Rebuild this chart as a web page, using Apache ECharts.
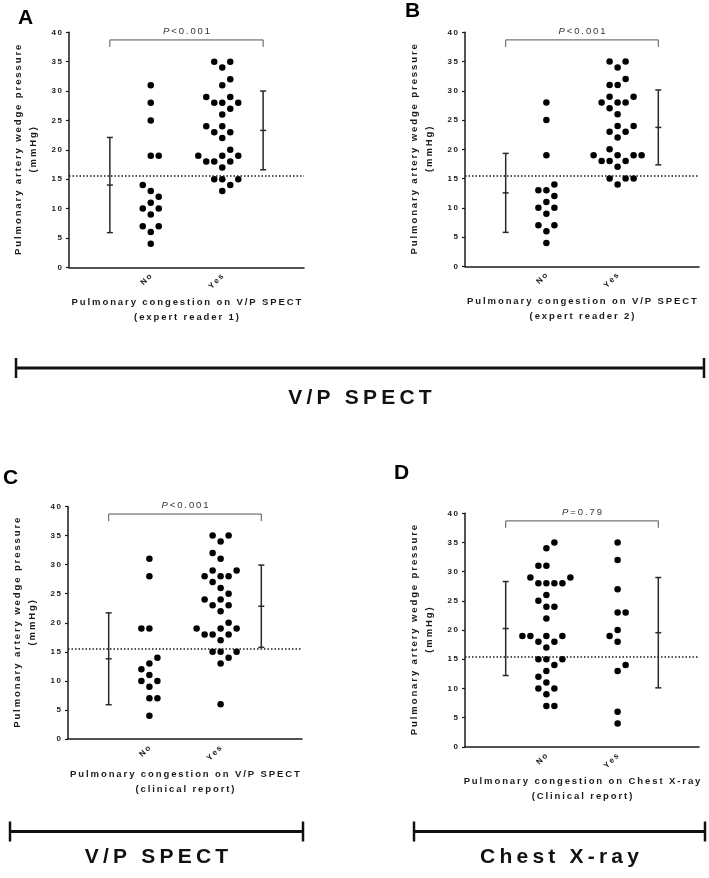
<!DOCTYPE html>
<html>
<head>
<meta charset="utf-8">
<script src="https://cdn.jsdelivr.net/npm/echarts@6/dist/echarts.min.js"></script>
<style>
html,body{margin:0;padding:0;background:#fff;}
#chart{width:709px;height:878px;}
</style>
</head>
<body>
<div id="chart"></div>
<script>
// ---------------- DATA ----------------
const groups = ['No', 'Yes'];
const yTicks = [0, 5, 10, 15, 20, 25, 30, 35, 40];
const threshold = 15.5;

// Panel A - expert reader 1
const aNo  = [31, 28, 25, 19, 19, 14, 13, 12, 11, 10, 10, 9, 7, 7, 6, 4];
const aYes = [35, 35, 34, 32, 31, 29, 29, 28, 28, 28, 27, 26, 24, 24, 23, 23, 22, 20, 19, 19, 19, 18, 18, 18, 17, 15, 15, 15, 14, 13];
// Panel B - expert reader 2
const bNo  = [28, 25, 19, 14, 13, 13, 12, 11, 10, 10, 9, 7, 7, 6, 4];
const bYes = [35, 35, 34, 32, 31, 31, 29, 29, 28, 28, 28, 27, 26, 24, 24, 23, 23, 22, 20, 19, 19, 19, 19, 18, 18, 18, 17, 15, 15, 15, 14];
// Panel C - clinical report V/P SPECT
const cNo  = [31, 28, 19, 19, 14, 13, 12, 11, 10, 10, 9, 7, 7, 4];
const cYes = [35, 35, 34, 32, 31, 29, 29, 28, 28, 28, 27, 26, 25, 24, 24, 23, 23, 22, 20, 19, 19, 19, 18, 18, 18, 17, 15, 15, 15, 14, 13, 6];
// Panel D - clinical report chest X-ray
const dNo  = [35, 34, 31, 31, 29, 29, 28, 28, 28, 28, 26, 25, 24, 24, 22, 19, 19, 19, 19, 18, 18, 17, 15, 15, 15, 14, 13, 12, 11, 10, 10, 9, 7, 7];
const dYes = [35, 32, 27, 23, 23, 20, 19, 18, 14, 13, 6, 4];

// error bars (mean, SD): [No, Yes]
const aMean = [14.0, 23.3],  aSD = [8.1, 6.7];
const bMean = [12.55, 23.74], bSD = [6.75, 6.4];
const cMean = [13.8, 22.84], cSD = [7.9, 7.08];
const dMean = [20.26, 19.55], dSD = [8.05, 9.45];

const pTexts = ['<0.001', '<0.001', '<0.001', '=0.79'];
const xTitles = [
  ['Pulmonary congestion on V/P SPECT', '(expert reader 1)'],
  ['Pulmonary congestion on V/P SPECT', '(expert reader 2)'],
  ['Pulmonary congestion on V/P SPECT', '(clinical report)'],
  ['Pulmonary congestion on Chest X-ray', '(Clinical report)']
];
const yTitle = ['Pulmonary artery wedge pressure', '(mmHg)'];
const panelLetters = ['A', 'B', 'C', 'D'];
const sectionLabels = ['V/P SPECT', 'V/P SPECT', 'Chest X-ray'];

// ---------------- LAYOUT ----------------
const FONT = '"Liberation Sans", Arial, Helvetica, sans-serif';
const INK = '#1a1a1a';
const XMAX = 5.75;
const colX = { errNo: 1, No: 2, Yes: 3.75, errYes: 4.75 };
const grids = [
  { left: 69,  top: 32.3,  width: 235, height: 235 },
  { left: 465, top: 32.3,  width: 234, height: 234 },
  { left: 68,  top: 506.5, width: 234, height: 232.5 },
  { left: 465, top: 513.3, width: 234, height: 233.5 }
];
const panels = [
  { no: aNo, yes: aYes, mean: aMean, sd: aSD },
  { no: bNo, yes: bYes, mean: bMean, sd: bSD },
  { no: cNo, yes: cYes, mean: cMean, sd: cSD },
  { no: dNo, yes: dYes, mean: dMean, sd: dSD }
];

function sp(s) { return s.split('').join('\u2009'); }

// simple beeswarm layout in pixel space
const STEP = 4, D = 7.2;
function swarm(values, center, pxX, pxY) {
  const sorted = values.slice().sort((a, b) => a - b);
  const placed = [];
  const out = [];
  let pref = 1;
  for (const v of sorted) {
    const y = v * pxY;
    let chosen = null;
    for (let k = 0; k < 30 && chosen === null; k++) {
      const cands = k === 0 ? [0] : [pref * k * STEP, -pref * k * STEP];
      for (const x of cands) {
        if (placed.every(p => Math.hypot(p.x - x, p.y - y) >= D - 1e-6)) { chosen = x; break; }
      }
    }
    if (chosen !== 0) pref = chosen > 0 ? -1 : 1;
    placed.push({ x: chosen, y });
    out.push([center + chosen / pxX, v]);
  }
  return out;
}

const option = {
  animation: false,
  backgroundColor: '#fff',
  textStyle: { fontFamily: FONT },
  grid: grids.map(g => Object.assign({ containLabel: false }, g)),
  xAxis: grids.map((g, i) => ({
    type: 'value', gridIndex: i, min: 0, max: XMAX,
    splitLine: { show: false },
    axisLine: { show: true, onZero: false, lineStyle: { color: INK, width: 1.5 } },
    axisTick: { show: false },
    axisLabel: {
      show: true, customValues: [colX.No, colX.Yes], rotate: 45, margin: 8,
      fontSize: 8, fontWeight: 'bold', color: INK, fontFamily: FONT,
      formatter: v => sp(Math.abs(v - colX.No) < 1e-6 ? groups[0] : groups[1])
    }
  })),
  yAxis: grids.map((g, i) => ({
    type: 'value', gridIndex: i, min: 0, max: 40, interval: 5,
    splitLine: { show: false },
    axisLine: { show: true, lineStyle: { color: INK, width: 1.5 } },
    axisTick: { show: true, length: 3, lineStyle: { color: INK, width: 1.2 } },
    axisLabel: {
      margin: 7, fontSize: 8, fontWeight: 'bold', color: INK, fontFamily: FONT,
      formatter: v => sp(String(v))
    }
  })),
  series: [],
  graphic: []
};

panels.forEach((p, i) => {
  const g = grids[i];
  const pxX = g.width / XMAX, pxY = g.height / 40;
  const pts = swarm(p.no, colX.No, pxX, pxY).concat(swarm(p.yes, colX.Yes, pxX, pxY));
  option.series.push({
    type: 'scatter', xAxisIndex: i, yAxisIndex: i,
    symbol: 'circle', symbolSize: 6.5,
    itemStyle: { color: '#000', opacity: 1 },
    data: pts,
    silent: true,
    markLine: {
      silent: true, symbol: 'none', label: { show: false },
      lineStyle: { type: [1.5, 2], width: 1.5, color: INK },
      data: [{ yAxis: threshold }]
    }
  });
  // error bars (mean ± SD)
  option.series.push({
    type: 'custom', xAxisIndex: i, yAxisIndex: i, silent: true,
    data: [[colX.errNo, p.mean[0], p.sd[0]], [colX.errYes, p.mean[1], p.sd[1]]],
    renderItem: (params, api) => {
      const x = api.value(0), m = api.value(1), s = api.value(2);
      const top = api.coord([x, m + s]), mid = api.coord([x, m]), bot = api.coord([x, m - s]);
      const st = { stroke: '#2a2a2a', lineWidth: 1.5 };
      const w = 3;
      return {
        type: 'group', children: [
          { type: 'line', shape: { x1: top[0], y1: top[1], x2: bot[0], y2: bot[1] }, style: st },
          { type: 'line', shape: { x1: top[0] - w, y1: top[1], x2: top[0] + w, y2: top[1] }, style: st },
          { type: 'line', shape: { x1: mid[0] - w, y1: mid[1], x2: mid[0] + w, y2: mid[1] }, style: st },
          { type: 'line', shape: { x1: bot[0] - w, y1: bot[1], x2: bot[0] + w, y2: bot[1] }, style: st }
        ]
      };
    }
  });
  // significance bracket + P text
  option.series.push({
    type: 'custom', xAxisIndex: i, yAxisIndex: i, silent: true,
    data: [[colX.errNo, colX.errYes, 38.7]],
    renderItem: (params, api) => {
      const a = api.coord([api.value(0), api.value(2)]);
      const b = api.coord([api.value(1), api.value(2)]);
      const leg = 7;
      return {
        type: 'group', children: [
          { type: 'polyline', shape: { points: [[a[0], a[1] + leg], [a[0], a[1]], [b[0], b[1]], [b[0], b[1] + leg]] },
            style: { stroke: '#555', lineWidth: 1, fill: null } },
          { type: 'text', x: (a[0] + b[0]) / 2, y: a[1] - 8.5,
            style: {
              text: '{i|P}' + '\u2009' + sp(pTexts[i]),
              align: 'center', verticalAlign: 'middle',
              font: '9.5px ' + FONT, fill: '#333',
              rich: { i: { fontStyle: 'italic', fontSize: 9.5, fontFamily: FONT, fill: '#333' } }
            } }
        ]
      };
    }
  });

  // y axis titles (rotated)
  option.graphic.push({
    type: 'text', x: g.left - 51, y: g.top + g.height / 2, rotation: Math.PI / 2,
    style: { text: sp(yTitle[0]), align: 'center', verticalAlign: 'middle', font: 'bold 9.5px ' + FONT, fill: INK }
  });
  option.graphic.push({
    type: 'text', x: g.left - 36, y: g.top + g.height / 2, rotation: Math.PI / 2,
    style: { text: sp(yTitle[1]), align: 'center', verticalAlign: 'middle', font: 'bold 9.5px ' + FONT, fill: INK }
  });
  // x axis titles
  const xb = g.top + g.height;
  option.graphic.push({
    type: 'text', x: g.left + g.width / 2, y: xb + 35,
    style: { text: sp(xTitles[i][0]), align: 'center', verticalAlign: 'middle', font: 'bold 9.5px ' + FONT, fill: INK }
  });
  option.graphic.push({
    type: 'text', x: g.left + g.width / 2, y: xb + 50,
    style: { text: sp(xTitles[i][1]), align: 'center', verticalAlign: 'middle', font: 'bold 9.5px ' + FONT, fill: INK }
  });
});

// panel letters
const letterPos = [[18, 18], [405, 11], [3, 478], [394, 473]];
panelLetters.forEach((t, i) => {
  option.graphic.push({
    type: 'text', x: letterPos[i][0], y: letterPos[i][1],
    style: { text: t, align: 'left', verticalAlign: 'middle', font: 'bold 21px ' + FONT, fill: '#000' }
  });
});

// section brackets and labels
const sections = [
  { x1: 16, x2: 704, y: 368, ty: 398 },
  { x1: 10, x2: 303, y: 831.5, ty: 857 },
  { x1: 414, x2: 705, y: 831.5, ty: 857 }
];
sections.forEach((s, i) => {
  const st = { stroke: '#111', lineWidth: 3 };
  option.graphic.push({ type: 'line', shape: { x1: s.x1, y1: s.y, x2: s.x2, y2: s.y }, style: st });
  option.graphic.push({ type: 'line', shape: { x1: s.x1, y1: s.y - 10, x2: s.x1, y2: s.y + 10 }, style: { stroke: '#111', lineWidth: 2.5 } });
  option.graphic.push({ type: 'line', shape: { x1: s.x2, y1: s.y - 10, x2: s.x2, y2: s.y + 10 }, style: { stroke: '#111', lineWidth: 2.5 } });
  const lab = sectionLabels[i].split(' ').map(w => w.split('').join('\u2009')).join('\u2009 \u2009');
  option.graphic.push({
    type: 'text', x: (s.x1 + s.x2) / 2, y: s.ty,
    style: { text: lab, align: 'center', verticalAlign: 'middle', font: 'bold 21px ' + FONT, fill: '#111' }
  });
});

const chart = echarts.init(document.getElementById('chart'), null, { renderer: 'canvas' });
chart.setOption(option);
</script>
</body>
</html>
